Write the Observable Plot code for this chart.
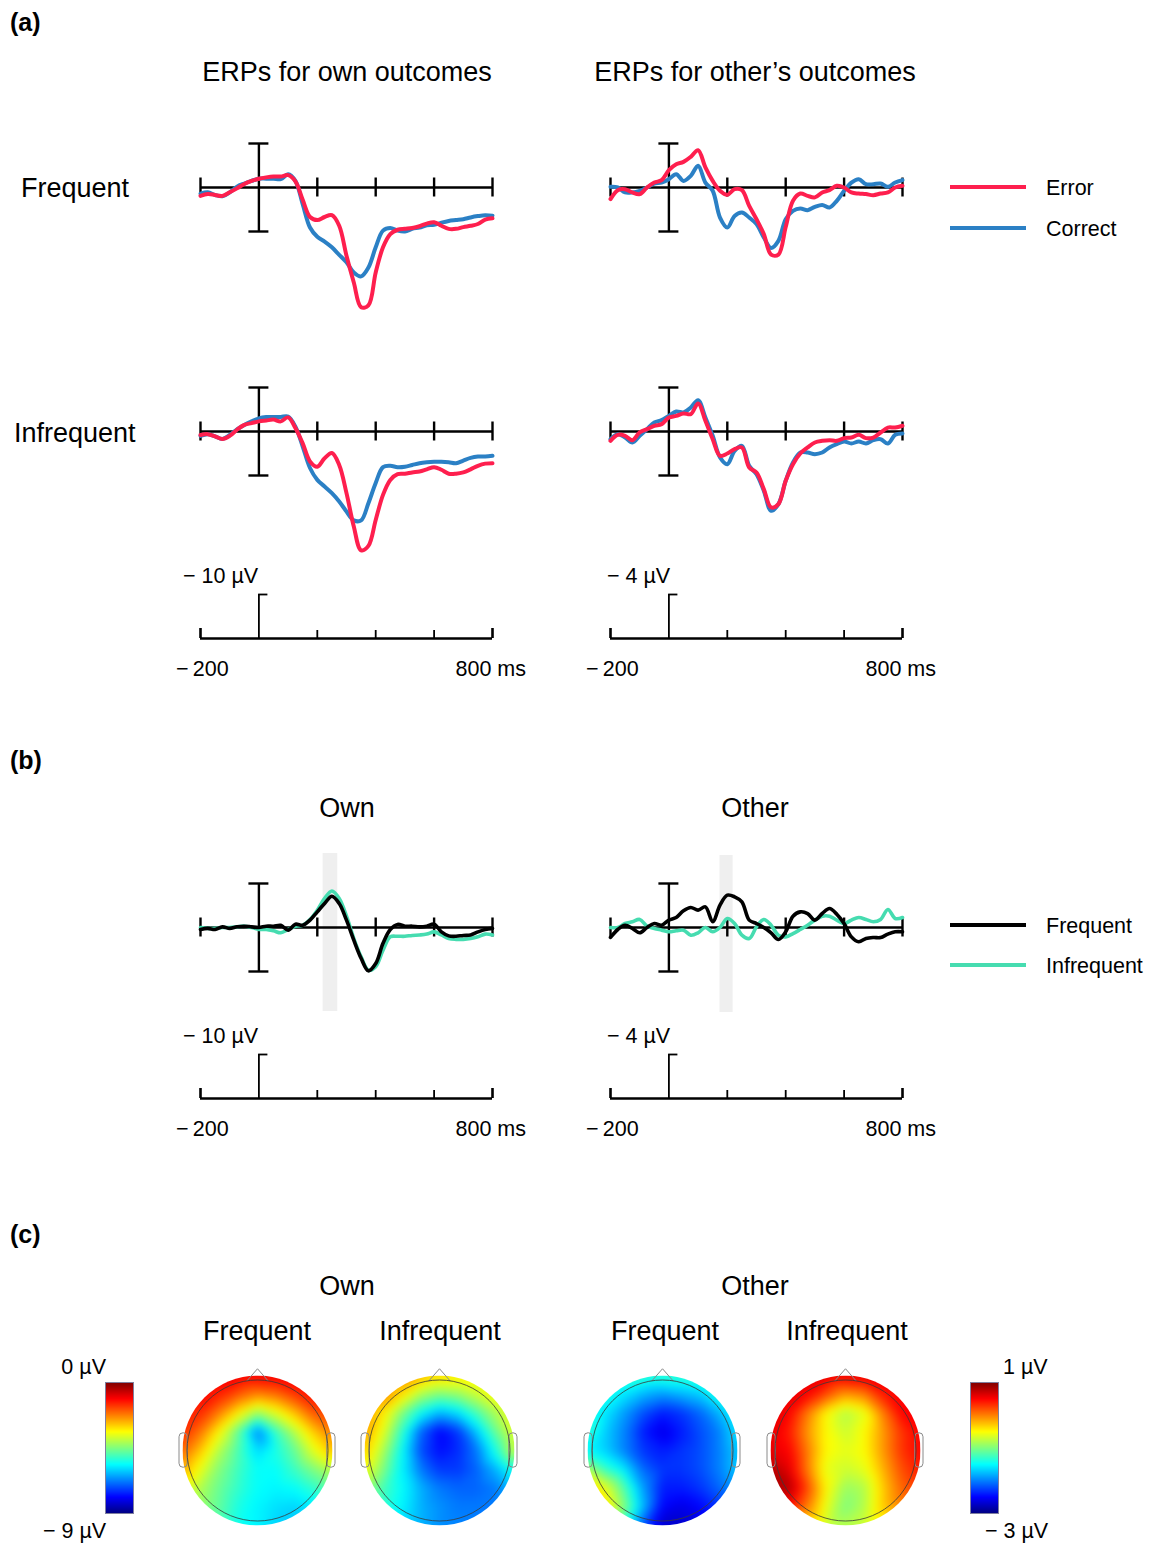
<!DOCTYPE html>
<html><head><meta charset="utf-8">
<script src="https://cdn.jsdelivr.net/npm/d3@7"></script>
<script src="https://cdn.jsdelivr.net/npm/@observablehq/plot@0.6"></script>
<style>
body{margin:0;background:#fff;}
#root{position:relative;width:1164px;height:1543px;overflow:hidden;background:#fff;font-family:"Liberation Sans",Arial,Helvetica,sans-serif;}
</style></head>
<body><div id="root"></div>
<script>
// ---------- DATA ----------
const times = [-200,-175,-150,-125,-100,-75,-50,-25,0,25,50,75,100,125,150,175,200,225,250,275,300,325,350,375,400,425,450,475,500,525,550,575,600,625,650,675,700,725,750,775,800];
const tickTimes = [-200,200,400,600,800];

// (a) ERPs (µV, negative plotted up)
const ownFreqError    = [1.9,1.5,1.7,1.9,1.1,0.2,-0.8,-1.5,-2.0,-2.3,-2.5,-2.5,-2.8,-1.4,2.8,6.7,7.4,6.7,6.3,8.7,15.5,21.6,27.2,26.8,19.3,13.6,10.6,9.6,9.4,9.2,8.8,8.2,7.9,8.7,9.4,9.4,9.0,8.7,8.3,7.3,7.0];
const ownFreqCorrect  = [1.4,1.1,1.7,2.0,1.1,-0.2,-0.9,-1.5,-2.0,-2.0,-2.0,-1.9,-3.0,-1.5,3.8,9.1,11.2,12.3,13.6,15.3,17.0,19.3,20.2,18.2,13.6,9.8,9.2,9.8,10.0,9.4,9.1,8.6,8.5,8.0,7.6,7.4,7.2,6.8,6.5,6.3,6.4];
const ownInfreqError  = [0.8,0.6,1.1,1.7,1.0,-0.4,-1.5,-1.9,-2.3,-2.5,-2.7,-2.3,-3.2,-0.8,2.7,6.8,8.0,6.1,4.9,7.6,14.0,21.6,27.0,26.0,20.1,14.4,11.0,9.7,9.6,9.3,9.1,8.6,8.1,8.7,9.6,9.6,9.3,8.6,7.8,7.3,7.2];
const ownInfreqCorrect= [1.0,0.6,1.1,1.7,0.8,-0.5,-1.5,-2.3,-3.0,-3.3,-3.3,-3.3,-3.4,-1.1,3.4,8.3,11.0,12.5,14.0,15.9,18.2,20.2,20.2,16.3,11.7,8.1,7.8,8.1,8.0,7.6,7.2,7.0,6.9,6.9,7.0,7.2,6.6,6.0,5.7,5.7,5.5];
const otherFreqError    = [1.06,0.24,0.15,0.45,0.6,0,-0.45,-0.67,-1.58,-2.12,-2.33,-2.79,-3.39,-1.82,-0.6,0.3,0.67,0.15,0.24,1.67,2.88,4.24,6.1,6.1,3.6,1.2,0.55,0.76,0.9,0.45,0.24,-0.15,0,0.45,0.55,0.6,0.7,0.55,0.45,0,-0.15];
const otherFreqCorrect  = [-0.06,0,0.45,0.45,0.3,0,-0.36,-0.45,-0.76,-1.21,-0.6,-1.06,-1.97,-0.45,0.3,2.73,3.64,2.58,2.27,2.73,3.33,4.55,5.5,4.85,2.88,2.12,1.9,2.06,1.76,1.58,1.82,1.21,0.3,-0.45,-0.76,-0.3,-0.3,-0.36,-0.06,-0.45,-0.67];
const otherInfreqError  = [0.85,0.3,0.39,0.79,0.09,-0.21,-0.52,-0.67,-1.27,-1.42,-1.64,-1.58,-2.55,-0.97,0.7,2.21,2.0,1.6,1.45,3.27,3.73,5.24,6.9,6.6,4.48,2.97,2.0,1.45,1.0,0.85,0.79,0.85,0.6,0.55,0.3,0.6,0.55,0.09,-0.36,-0.36,-0.52];
const otherInfreqCorrect= [0.7,0.24,0.55,1.0,0.39,-0.21,-0.82,-1.03,-1.42,-1.82,-1.73,-2.18,-2.85,-1.27,0.39,2.36,2.97,1.76,1.3,3.12,3.88,5.39,7.21,6.6,4.48,2.82,1.91,1.91,2.06,1.91,1.45,1.15,0.91,1.09,0.91,1.09,0.79,0.7,1.09,0.3,0.18];

// (b) difference waves (Error - Correct)
const diffOwnFreq    = [0.45,0.2,0.45,-0.15,0.2,-0.15,-0.3,-0.15,0,-0.3,-0.3,-0.5,0.6,-0.75,-0.5,-1.67,-3.56,-5.45,-7.1,-5.45,-1.67,2.88,7.0,9.85,8.2,3.6,0.45,-0.7,-0.3,-0.3,-0.15,-0.3,-0.75,1.0,1.9,2.0,1.8,1.7,1.0,0.45,0.2];
const diffOwnInfreq  = [0,0.2,0.2,0,0,-0.15,-0.3,0,0.45,0.45,0.75,1.2,0.45,-0.3,-0.5,-1.8,-3.94,-6.6,-8.3,-6.6,-2.58,2.5,6.67,9.7,8.9,5.15,2.12,2.0,2.0,1.8,1.7,1.5,1.0,1.7,2.5,2.7,2.7,2.5,2.1,1.5,1.7];
const diffOtherFreq  = [0.9,0.18,-0.21,0.09,0.48,0,-0.36,-0.21,-0.67,-0.91,-1.52,-1.82,-1.58,-1.88,-0.52,-2.03,-2.94,-2.79,-2.33,-0.67,-0.36,0,0.48,1.09,0.39,-1.03,-1.42,-1.27,-0.67,-1.27,-1.73,-1.21,-0.36,0.85,1.3,1.0,0.91,0.91,0.6,0.39,0.39];
const diffOtherInfreq= [0,0,-0.36,-0.52,-0.73,-0.12,0.09,0.24,0.39,0.3,0.24,0.7,0.48,0,0.39,0,-0.82,-0.36,0.7,1.0,-0.06,-0.73,-0.21,0.7,0.85,0.55,0.18,-0.21,-0.67,-1.03,-1.03,-0.67,-0.36,-0.67,-0.91,-0.73,-0.52,-0.73,-1.64,-0.82,-0.91];
const ownWindow = [220, 270];
const otherWindow = [175, 220];

// (c) topographies: 9x9 grid (rows front→back, columns left→right), µV
const gridCoord = [-1,-0.75,-0.5,-0.25,0,0.25,0.5,0.75,1];
const topoOwnFreq = [
 [-1.2,-1.1,-1.0,-1.0,-1.0,-1.0,-1.0,-1.1,-1.2],
 [-1.2,-1.1,-1.4,-1.9,-2.3,-2.1,-1.6,-1.2,-1.2],
 [-1.4,-1.5,-2.3,-3.3,-4.3,-3.6,-2.8,-1.9,-1.7],
 [-1.5,-2.2,-3.4,-4.8,-6.8,-5.1,-4.0,-2.9,-2.2],
 [-2.0,-2.9,-4.1,-5.0,-6.0,-5.4,-4.7,-3.6,-2.8],
 [-2.6,-3.6,-4.5,-5.1,-5.6,-5.6,-5.1,-4.5,-4.0],
 [-3.6,-4.1,-4.7,-5.2,-5.6,-5.7,-5.6,-5.2,-4.7],
 [-4.1,-4.3,-4.8,-5.4,-5.7,-5.9,-6.0,-5.8,-5.2],
 [-4.5,-4.7,-5.0,-5.5,-5.7,-6.0,-6.1,-5.9,-5.6]];
const topoOwnInfreq = [
 [-2.3,-2.3,-2.3,-2.7,-3.0,-3.2,-3.4,-3.4,-3.4],
 [-2.2,-2.3,-3.1,-4.1,-4.5,-4.3,-3.8,-3.4,-3.4],
 [-2.5,-3.2,-4.5,-5.6,-6.3,-5.9,-5.0,-4.1,-3.6],
 [-2.5,-3.6,-5.2,-7.0,-7.9,-7.4,-6.1,-4.7,-3.6],
 [-2.9,-4.1,-5.6,-7.2,-7.8,-7.5,-6.8,-5.4,-3.8],
 [-3.4,-4.5,-5.7,-6.8,-7.4,-7.4,-7.0,-6.3,-5.4],
 [-4.3,-5.0,-5.6,-6.3,-6.8,-7.0,-7.0,-6.8,-6.1],
 [-5.0,-5.2,-5.7,-6.3,-6.6,-6.8,-6.8,-6.8,-6.5],
 [-5.4,-5.6,-6.0,-6.3,-6.6,-6.7,-6.8,-6.8,-6.7]];
const topoOtherFreq = [
 [-1.3,-1.3,-1.3,-1.3,-1.3,-1.3,-1.3,-1.3,-1.3],
 [-1.3,-1.4,-1.6,-1.8,-1.9,-1.8,-1.7,-1.4,-1.3],
 [-1.4,-1.6,-1.9,-2.2,-2.4,-2.3,-2.1,-1.8,-1.5],
 [-1.3,-1.7,-2.0,-2.4,-2.6,-2.4,-2.2,-2.0,-1.6],
 [-1.5,-1.7,-2.0,-2.3,-2.4,-2.3,-2.2,-2.0,-1.7],
 [-0.8,-1.3,-1.6,-2.1,-2.3,-2.3,-2.2,-2.0,-1.7],
 [-0.3,-0.6,-1.2,-1.9,-2.4,-2.4,-2.3,-2.1,-1.9],
 [-0.2,-0.4,-1.0,-1.8,-2.5,-2.6,-2.5,-2.3,-2.0],
 [-0.6,-0.8,-1.4,-2.2,-2.7,-2.7,-2.6,-2.4,-2.2]];
const topoOtherInfreq = [
 [0.6,0.6,0.6,0.6,0.6,0.6,0.6,0.6,0.6],
 [0.6,0.6,0.5,0.2,-0.1,0.0,0.4,0.5,0.5],
 [0.6,0.5,0.0,-0.5,-0.8,-0.6,0.0,0.5,0.5],
 [0.6,0.4,-0.1,-0.5,-0.7,-0.5,-0.1,0.3,0.5],
 [0.6,0.5,0.0,-0.5,-0.6,-0.5,-0.1,0.3,0.5],
 [0.8,0.6,0.0,-0.6,-0.7,-0.6,-0.2,0.2,0.4],
 [0.8,0.8,0.2,-0.5,-0.9,-0.8,-0.3,0.1,0.3],
 [0.6,0.5,0.0,-0.6,-1.0,-0.8,-0.3,0.0,0.1],
 [0.0,-0.2,-0.4,-0.7,-0.8,-0.7,-0.5,-0.3,-0.2]];
const ownColorDomain = [-9, 0];
const otherColorDomain = [-3, 1];
const jetColors = ["#00007f","#0000ff","#007fff","#00ffff","#7fff7f","#ffff00","#ff7f00","#ff0000","#7f0000"];
// head outline pieces (normalized head radius units)
const noseX = [-0.14, 0, 0.14];
const noseY = [0.93, 1.09, 0.93];
const earsX1 = [-1.04, 0.93], earsX2 = [-0.93, 1.04];

// colours
const RED = "#fe1f4e", BLUE = "#2b80c5", BLACK = "#000000", TEAL = "#46dcb0";

// ---------- DRAWING ----------
const root = document.getElementById("root");
function place(el, left, top) {
  el.style.position = "absolute";
  el.style.left = left + "px";
  el.style.top = top + "px";
  el.style.maxWidth = "none";
  root.appendChild(el);
}

function erp({x0, x1, base, pxPerUV, barUV, top, height, series, band, bandTop, bandBot, lw}) {
  const width = (x1 - x0) + 20;
  const msPerPx = 1000 / (x1 - x0);
  const yTop = (top - base) / pxPerUV, yBot = (top + height - base) / pxPerUV;
  const tickH = 9.5 / pxPerUV, capMs = 10 * msPerPx;
  const rows = series.flatMap(s => times.map((t, i) => ({t, v: s.values[i], key: s.name})));
  const marks = [];
  if (band) marks.push(Plot.rect([band], {x1: d => d[0], x2: d => d[1],
    y1: (bandTop - base) / pxPerUV, y2: (bandBot - base) / pxPerUV, fill: "#efefef"}));
  marks.push(
    Plot.ruleY([0], {x1: -200, x2: 800, stroke: "#000", strokeWidth: 2.4}),
    Plot.ruleX(tickTimes, {y1: -tickH, y2: tickH, stroke: "#000", strokeWidth: 2.4}),
    Plot.ruleX([0], {y1: -barUV, y2: barUV, stroke: "#000", strokeWidth: 2.4}),
    Plot.ruleY([-barUV, barUV], {x1: -capMs, x2: capMs, stroke: "#000", strokeWidth: 2.4}),
    Plot.line(rows, {x: "t", y: "v", z: "key", stroke: "key", strokeWidth: lw, curve: "catmull-rom",
      strokeLinejoin: "round", strokeLinecap: "round"})
  );
  const p = Plot.plot({
    width, height, marginLeft: 10, marginRight: 10, marginTop: 0, marginBottom: 0,
    x: {domain: [-200, 800], axis: null},
    y: {domain: [yTop, yBot], range: [0, height], axis: null},
    color: {domain: series.map(s => s.name), range: series.map(s => s.color)},
    style: {background: "transparent", overflow: "visible"},
    marks
  });
  place(p, x0 - 10, top);
}

function scaleBar({x0, x1, base, pxPerUV, barUV, top, height}) {
  const width = (x1 - x0) + 20;
  const msPerPx = 1000 / (x1 - x0);
  const yTop = (top - base) / pxPerUV, yBot = (top + height - base) / pxPerUV;
  const p = Plot.plot({
    width, height, marginLeft: 10, marginRight: 10, marginTop: 0, marginBottom: 0,
    x: {domain: [-200, 800], axis: null},
    y: {domain: [yTop, yBot], range: [0, height], axis: null},
    style: {background: "transparent", overflow: "visible"},
    marks: [
      Plot.ruleY([0], {x1: -200, x2: 800, stroke: "#000", strokeWidth: 2.6}),
      Plot.ruleX([-200, 800], {y1: 0, y2: -10 / pxPerUV, stroke: "#000", strokeWidth: 2.6}),
      Plot.ruleX([200, 400, 600], {y1: 0, y2: -8 / pxPerUV, stroke: "#000", strokeWidth: 1.8}),
      Plot.ruleX([0], {y1: 0, y2: -barUV, stroke: "#000", strokeWidth: 1.8}),
      Plot.ruleY([-barUV], {x1: -1, x2: 9 * msPerPx, stroke: "#000", strokeWidth: 1.8})
    ]
  });
  place(p, x0 - 10, top);
}

const OWN = {x0: 200, x1: 492}, OTHER = {x0: 610, x1: 902};

// (a)
erp({...OWN, base: 187, pxPerUV: 4.4, barUV: 10, top: 120, height: 200, lw: 4,
  series: [{name: "Correct", values: ownFreqCorrect, color: BLUE}, {name: "Error", values: ownFreqError, color: RED}]});
erp({...OWN, base: 431, pxPerUV: 4.4, barUV: 10, top: 370, height: 195, lw: 4,
  series: [{name: "Correct", values: ownInfreqCorrect, color: BLUE}, {name: "Error", values: ownInfreqError, color: RED}]});
erp({...OTHER, base: 187, pxPerUV: 11, barUV: 4, top: 120, height: 160, lw: 4,
  series: [{name: "Correct", values: otherFreqCorrect, color: BLUE}, {name: "Error", values: otherFreqError, color: RED}]});
erp({...OTHER, base: 431, pxPerUV: 11, barUV: 4, top: 370, height: 160, lw: 4,
  series: [{name: "Correct", values: otherInfreqCorrect, color: BLUE}, {name: "Error", values: otherInfreqError, color: RED}]});
scaleBar({...OWN, base: 638, pxPerUV: 4.4, barUV: 10, top: 585, height: 60});
scaleBar({...OTHER, base: 638, pxPerUV: 11, barUV: 4, top: 585, height: 60});

// (b)
erp({...OWN, base: 927, pxPerUV: 4.4, barUV: 10, top: 845, height: 175, lw: 3.6,
  band: ownWindow, bandTop: 853, bandBot: 1011,
  series: [{name: "Infrequent", values: diffOwnInfreq, color: TEAL}, {name: "Frequent", values: diffOwnFreq, color: BLACK}]});
erp({...OTHER, base: 927, pxPerUV: 11, barUV: 4, top: 845, height: 175, lw: 3.6,
  band: otherWindow, bandTop: 855, bandBot: 1012,
  series: [{name: "Infrequent", values: diffOtherInfreq, color: TEAL}, {name: "Frequent", values: diffOtherFreq, color: BLACK}]});
scaleBar({...OWN, base: 1098, pxPerUV: 4.4, barUV: 10, top: 1045, height: 60});
scaleBar({...OTHER, base: 1098, pxPerUV: 11, barUV: 4, top: 1045, height: 60});

// (c) topographic maps
const jet = d3.piecewise(d3.interpolateRgb, jetColors);
let clipId = 0;
function topo({cx, cy, grid, domain}) {
  const R = 75, S = 95, k = S / R;
  const pts = grid.flatMap((row, i) => row.map((v, j) => ({x: gridCoord[j], y: gridCoord[8 - i], v})));
  const ears = earsX1.map((a, i) => ({a, b: earsX2[i]}));
  const nose = noseX.map((x, i) => ({x, y: noseY[i]}));
  const p = Plot.plot({
    width: 2 * S, height: 2 * S, margin: 0,
    x: {domain: [-k, k], axis: null},
    y: {domain: [-k, k], axis: null},
    color: {type: "linear", domain, interpolate: jet, clamp: true},
    style: {background: "transparent", overflow: "visible"},
    marks: [
      Plot.raster(pts, {x: "x", y: "y", fill: "v", interpolate: "barycentric",
        x1: -1, y1: -1, x2: 1, y2: 1, pixelSize: 1, blur: 4}),
      Plot.rect(ears, {x1: "a", x2: "b", y1: -0.23, y2: 0.23, rx: 4, fill: "none", stroke: "#8a8a8a", strokeWidth: 1}),
      Plot.line(nose, {x: "x", y: "y", stroke: "#8a8a8a", strokeWidth: 1}),
      Plot.dot([0], {x: 0, y: 0, r: 70.5, fill: "none", stroke: "#3a3a3a", strokeWidth: 1, strokeOpacity: 0.8})
    ]
  });
  const ns = "http://www.w3.org/2000/svg";
  const img = p.querySelector("image");
  if (img) {
    const id = "topoclip" + (clipId++);
    const defs = document.createElementNS(ns, "defs");
    const cp = document.createElementNS(ns, "clipPath");
    cp.setAttribute("id", id);
    const c = document.createElementNS(ns, "circle");
    c.setAttribute("cx", S); c.setAttribute("cy", S); c.setAttribute("r", R);
    cp.appendChild(c); defs.appendChild(cp); p.insertBefore(defs, p.firstChild);
    img.parentNode.setAttribute("clip-path", `url(#${id})`);
  }
  place(p, cx - S, cy - S);
}
topo({cx: 257, cy: 1450, grid: topoOwnFreq, domain: ownColorDomain});
topo({cx: 439, cy: 1450, grid: topoOwnInfreq, domain: ownColorDomain});
topo({cx: 662, cy: 1450, grid: topoOtherFreq, domain: otherColorDomain});
topo({cx: 845, cy: 1450, grid: topoOtherInfreq, domain: otherColorDomain});

function colorbar({left, top, domain}) {
  const p = Plot.plot({
    width: 28, height: 131, margin: 0,
    x: {domain: [0, 1], axis: null},
    y: {domain, axis: null},
    color: {type: "linear", domain, interpolate: jet, clamp: true},
    style: {background: "transparent", overflow: "visible"},
    marks: [
      Plot.raster({fill: (x, y) => y, x1: 0, x2: 1, y1: domain[0], y2: domain[1], pixelSize: 1}),
      Plot.frame({stroke: "#7f7f9f", strokeWidth: 1})
    ]
  });
  place(p, left, top);
}
colorbar({left: 105, top: 1382, domain: ownColorDomain});
colorbar({left: 970, top: 1382, domain: otherColorDomain});

// ---------- TEXT & LEGENDS (overlay) ----------
const ns = "http://www.w3.org/2000/svg";
const ov = document.createElementNS(ns, "svg");
ov.setAttribute("width", 1164); ov.setAttribute("height", 1543);
ov.style.position = "absolute"; ov.style.left = "0px"; ov.style.top = "0px";
ov.style.fontFamily = '"Liberation Sans", Arial, Helvetica, sans-serif';
function txt(s, x, y, size, anchor = "start", weight = "normal") {
  const t = document.createElementNS(ns, "text");
  t.setAttribute("x", x); t.setAttribute("y", y);
  t.setAttribute("font-size", size); t.setAttribute("text-anchor", anchor);
  t.setAttribute("font-weight", weight); t.setAttribute("fill", "#000");
  t.textContent = s; ov.appendChild(t);
}
function swatch(y, color) {
  const l = document.createElementNS(ns, "line");
  l.setAttribute("x1", 950); l.setAttribute("x2", 1026);
  l.setAttribute("y1", y); l.setAttribute("y2", y);
  l.setAttribute("stroke", color); l.setAttribute("stroke-width", 4);
  ov.appendChild(l);
}
const M = "\u2212";
const T = 27;
txt("(a)", 10, 31, 25, "start", "bold");
txt("ERPs for own outcomes", 347, 81, T, "middle");
txt("ERPs for other\u2019s outcomes", 755, 81, T, "middle");
txt("Frequent", 21, 197, T);
txt("Infrequent", 14, 442, T);
swatch(187, RED); swatch(228, BLUE);
txt("Error", 1046, 195, 21.5); txt("Correct", 1046, 236, 21.5);
txt(M + " 10 \u00b5V", 183, 583, 21.5); txt(M + " 4 \u00b5V", 607, 583, 21.5);
txt(M + "\u2009200", 176, 676, 21.5); txt("800 ms", 526, 676, 21.5, "end");
txt(M + "\u2009200", 586, 676, 21.5); txt("800 ms", 936, 676, 21.5, "end");

txt("(b)", 10, 769, 25, "start", "bold");
txt("Own", 347, 817, T, "middle");
txt("Other", 755, 817, T, "middle");
swatch(925, BLACK); swatch(965, TEAL);
txt("Frequent", 1046, 933, 21.5); txt("Infrequent", 1046, 973, 21.5);
txt(M + " 10 \u00b5V", 183, 1043, 21.5); txt(M + " 4 \u00b5V", 607, 1043, 21.5);
txt(M + "\u2009200", 176, 1136, 21.5); txt("800 ms", 526, 1136, 21.5, "end");
txt(M + "\u2009200", 586, 1136, 21.5); txt("800 ms", 936, 1136, 21.5, "end");

txt("(c)", 10, 1243, 25, "start", "bold");
txt("Own", 347, 1295, T, "middle");
txt("Other", 755, 1295, T, "middle");
txt("Frequent", 257, 1340, T, "middle");
txt("Infrequent", 440, 1340, T, "middle");
txt("Frequent", 665, 1340, T, "middle");
txt("Infrequent", 847, 1340, T, "middle");
txt("0 \u00b5V", 106, 1374, 21.5, "end");
txt(M + " 9 \u00b5V", 43, 1538, 21.5);
txt("1 \u00b5V", 1003, 1374, 21.5);
txt(M + " 3 \u00b5V", 985, 1538, 21.5);
root.appendChild(ov);
</script>
</body></html>
